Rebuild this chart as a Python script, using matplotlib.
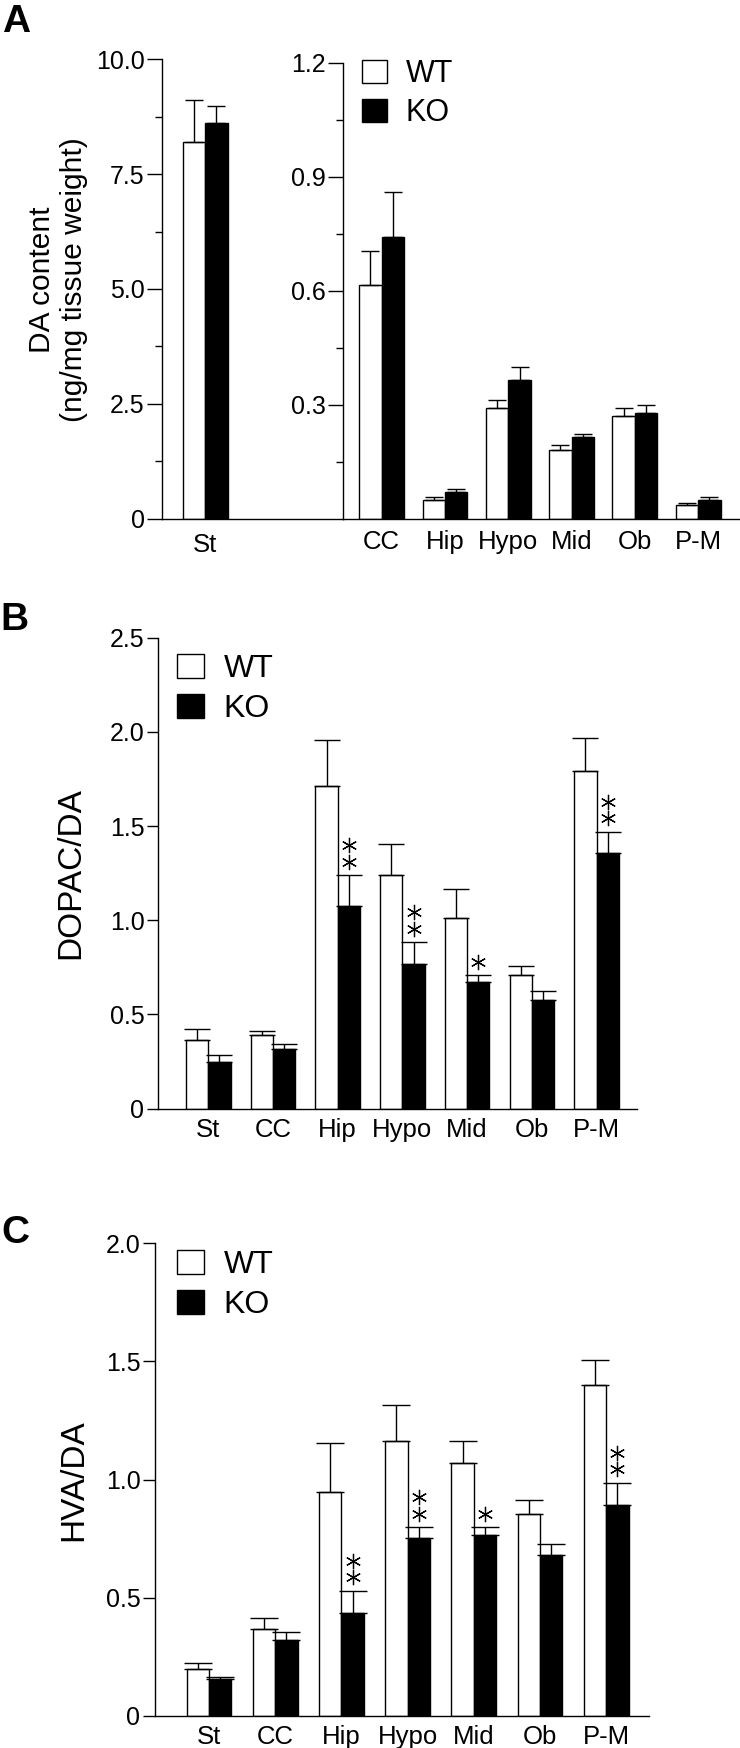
import numpy as np
import matplotlib
matplotlib.use('Agg')
import matplotlib.pyplot as plt
from matplotlib.patches import Patch
from matplotlib.transforms import offset_copy

plt.rcParams['font.family'] = ['Liberation Sans', 'DejaVu Sans']

# panel A, DA content (striatum on its own scale)
st_label = ['St']
st_wt = [8.19]
st_wt_sem = [0.92]
st_ko = [8.62]
st_ko_sem = [0.37]

regions_a = ['CC', 'Hip', 'Hypo', 'Mid', 'Ob', 'P-M']
a_wt = [0.616, 0.0485, 0.292, 0.181, 0.271, 0.035]
a_wt_sem = [0.088, 0.0075, 0.021, 0.013, 0.021, 0.0075]
a_ko = [0.742, 0.070, 0.364, 0.216, 0.278, 0.049]
a_ko_sem = [0.119, 0.007, 0.035, 0.0065, 0.021, 0.007]

# panel B, DOPAC/DA and panel C, HVA/DA
regions = ['St', 'CC', 'Hip', 'Hypo', 'Mid', 'Ob', 'P-M']
b_wt = [0.365, 0.390, 1.711, 1.240, 1.014, 0.708, 1.792]
b_wt_sem = [0.058, 0.021, 0.246, 0.165, 0.152, 0.048, 0.176]
b_ko = [0.248, 0.317, 1.074, 0.768, 0.672, 0.579, 1.359]
b_ko_sem = [0.035, 0.026, 0.166, 0.115, 0.036, 0.047, 0.111]
b_sig = [0, 0, 2, 2, 1, 0, 2]

c_wt = [0.199, 0.366, 0.945, 1.164, 1.069, 0.856, 1.398]
c_wt_sem = [0.026, 0.047, 0.209, 0.153, 0.094, 0.059, 0.108]
c_ko = [0.154, 0.319, 0.436, 0.752, 0.763, 0.681, 0.893]
c_ko_sem = [0.011, 0.034, 0.094, 0.046, 0.034, 0.047, 0.094]
c_sig = [0, 0, 2, 2, 1, 0, 2]

W, H = 740, 1748
fig = plt.figure(figsize=(W / 100, H / 100), dpi=100)


def rect(x0, y0, x1, y1):
    # pixel box (from top left) -> figure fraction
    return [x0 / W, 1 - y1 / H, (x1 - x0) / W, (y1 - y0) / H]


def bars(ax, wt, wt_sem, ko, ko_sem, w, cap):
    x = np.arange(len(wt))
    ax.bar(x - w / 2, wt, w, color='white', edgecolor='black', linewidth=1)
    ax.bar(x + w / 2, ko, w, color='black', edgecolor='black', linewidth=1)
    ax.errorbar(x - w / 2, wt, yerr=[np.zeros(len(wt)), wt_sem], fmt='none',
                ecolor='black', elinewidth=1, capsize=cap, capthick=1)
    ax.errorbar(x + w / 2, ko, yerr=[np.zeros(len(ko)), ko_sem], fmt='none',
                ecolor='black', elinewidth=1, capsize=cap, capthick=1)
    return x


def stars(ax, x, ko, ko_sem, sig, w):
    tops = np.array(ko) + np.array(ko_sem)
    for i, n in enumerate(sig):
        for k in range(n):
            tr = offset_copy(ax.transData, fig=fig, y=(13.5 + 16.5 * k) * 0.72, units='points')
            ax.plot(x[i] + w / 2, tops[i], marker=(6, 2, 0), markersize=11,
                    markeredgewidth=0.9, color='black', transform=tr, clip_on=False)


def style(ax, ticklen):
    for s in ['top', 'right']:
        ax.spines[s].set_visible(False)
    for s in ['left', 'bottom']:
        ax.spines[s].set_linewidth(1)
    ax.tick_params(axis='y', direction='out', length=ticklen, width=1, labelsize=18, pad=2)
    ax.tick_params(axis='x', length=0, labelsize=18.5, pad=7)


def legend(ax, x, y, size):
    handles = [Patch(facecolor='white', edgecolor='black', linewidth=1, label='WT'),
               Patch(facecolor='black', edgecolor='black', linewidth=1, label='KO')]
    ax.legend(handles=handles, loc='upper left', bbox_to_anchor=(x / W, 1 - y / H),
              bbox_transform=fig.transFigure, frameon=False, fontsize=size,
              handlelength=0.82, handleheight=0.8, handletextpad=0.62,
              labelspacing=0.3, borderpad=0, borderaxespad=0)


# ---- A ----
w = 0.355
ax1 = fig.add_axes(rect(162, 59.3, 343, 518.7))
x = bars(ax1, st_wt, st_wt_sem, st_ko, st_ko_sem, w, 6.5)
ax1.set_xlim(-0.68, 2.179)
ax1.set_ylim(0, 10)
ax1.set_yticks([0, 2.5, 5.0, 7.5, 10.0])
ax1.set_yticklabels(['0', '2.5', '5.0', '7.5', '10.0'])
ax1.set_yticks([1.25, 3.75, 6.25, 8.75], minor=True)
ax1.set_xticks(x)
ax1.set_xticklabels(st_label)
style(ax1, 10.5)
ax1.tick_params(axis='y', which='minor', length=5, width=1)
ax1.tick_params(axis='x', pad=10)

ax2 = fig.add_axes(rect(343, 63, 739, 518.7))
x = bars(ax2, a_wt, a_wt_sem, a_ko, a_ko_sem, w, 6.5)
ax2.set_xlim(-0.611, 5.645)
ax2.set_ylim(0, 1.2)
ax2.set_yticks([0.3, 0.6, 0.9, 1.2])
ax2.set_yticklabels(['0.3', '0.6', '0.9', '1.2'])
ax2.set_yticks([0.15, 0.45, 0.75, 1.05], minor=True)
ax2.set_xticks(x)
ax2.set_xticklabels(regions_a)
style(ax2, 10.5)
ax2.tick_params(axis='y', which='minor', length=5, width=1)
ax2.tick_params(axis='x', pad=8)
legend(ax2, 361.7, 59, 22)

fig.text(2 / W, 1 - 31.7 / H, 'A', fontsize=28, fontweight='bold', va='baseline')
fig.text(58 / W, 1 - 280 / H, 'DA content\n(ng/mg tissue weight)', rotation=90,
         ha='center', va='center', fontsize=21.5, multialignment='center')

# ---- B ----
w = 0.345
ax3 = fig.add_axes(rect(158.3, 637.7, 637.3, 1108.7))
x = bars(ax3, b_wt, b_wt_sem, b_ko, b_ko_sem, w, 9.5)
stars(ax3, x, b_ko, b_ko_sem, b_sig, w)
ax3.set_xlim(-0.773, 6.63)
ax3.set_ylim(0, 2.5)
ax3.set_yticks([0, 0.5, 1.0, 1.5, 2.0, 2.5])
ax3.set_yticklabels(['0', '0.5', '1.0', '1.5', '2.0', '2.5'])
ax3.set_xticks(x)
ax3.set_xticklabels(regions)
style(ax3, 8)
legend(ax3, 177.4, 654, 23)
fig.text(0 / W, 1 - 630 / H, 'B', fontsize=28, fontweight='bold', va='baseline')
fig.text(71 / W, 1 - 873 / H, 'DOPAC/DA', rotation=90, ha='center', va='center', fontsize=24)

# ---- C ----
w = 0.337
ax4 = fig.add_axes(rect(155, 1243.3, 648.7, 1715.7))
x = bars(ax4, c_wt, c_wt_sem, c_ko, c_ko_sem, w, 10)
stars(ax4, x, c_ko, c_ko_sem, c_sig, w)
ax4.set_xlim(-0.816, 6.642)
ax4.set_ylim(0, 2.0)
ax4.set_yticks([0, 0.5, 1.0, 1.5, 2.0])
ax4.set_yticklabels(['0', '0.5', '1.0', '1.5', '2.0'])
ax4.set_xticks(x)
ax4.set_xticklabels(regions)
style(ax4, 8.5)
legend(ax4, 177.4, 1250, 23)
fig.text(1 / W, 1 - 1243 / H, 'C', fontsize=28, fontweight='bold', va='baseline')
fig.text(74 / W, 1 - 1480 / H, 'HVA/DA', rotation=90, ha='center', va='center', fontsize=24)

fig.savefig('out.png', dpi=100)
